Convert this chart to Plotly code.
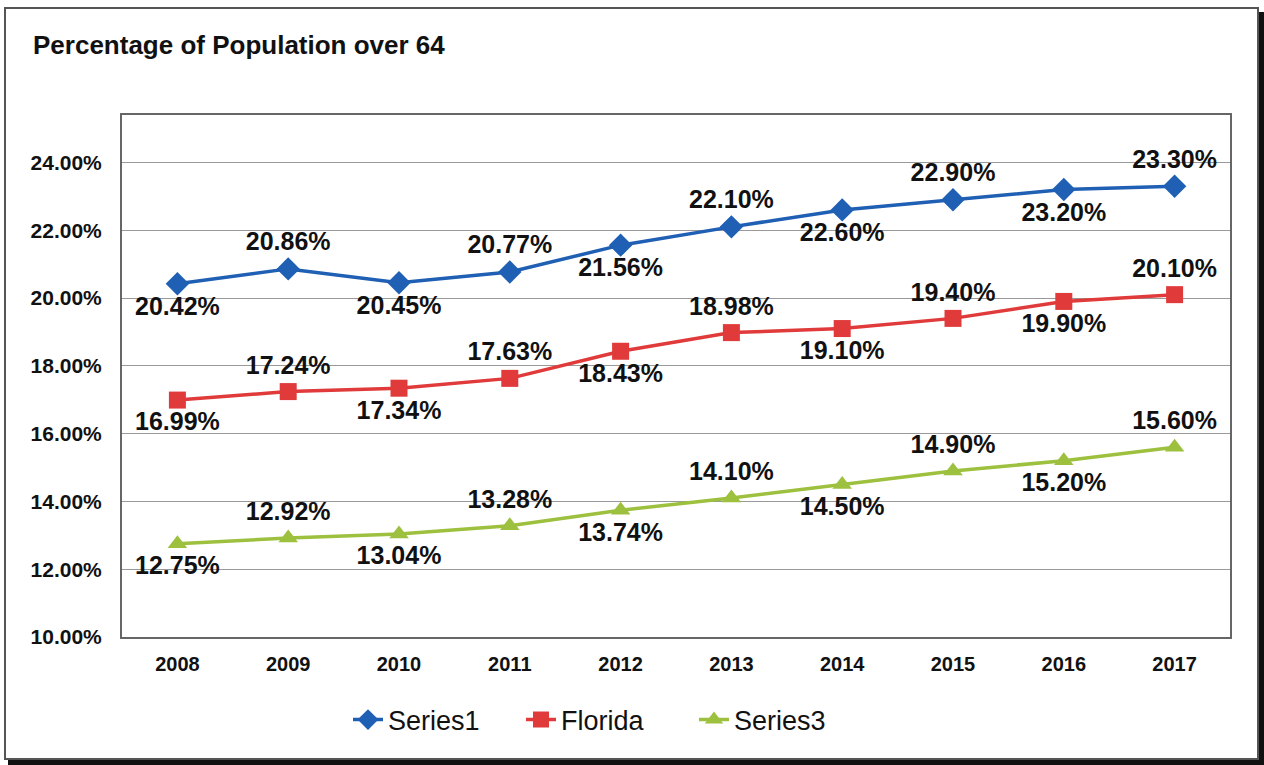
import plotly.graph_objects as go

# Values (percent)
years = ["2008", "2009", "2010", "2011", "2012", "2013", "2014", "2015", "2016", "2017"]
series1 = [20.42, 20.86, 20.45, 20.77, 21.56, 22.10, 22.60, 22.90, 23.20, 23.30]
florida = [16.99, 17.24, 17.34, 17.63, 18.43, 18.98, 19.10, 19.40, 19.90, 20.10]
series3 = [12.75, 12.92, 13.04, 13.28, 13.74, 14.10, 14.50, 14.90, 15.20, 15.60]
y_ticks = [10, 12, 14, 16, 18, 20, 22, 24]

# labels alternate below / above the points
label_pos = ["bottom center", "top center"] * 5

FONT = "Arial, Liberation Sans, sans-serif"

fig = go.Figure()

def add_series(name, values, color, symbol, size):
    fig.add_trace(go.Scatter(
        x=years,
        y=values,
        name=name,
        mode="lines+markers+text",
        line=dict(color=color, width=3.5),
        marker=dict(color=color, symbol=symbol, size=size),
        text=[f"{v:.2f}%" for v in values],
        textposition=label_pos,
        textfont=dict(family=FONT, size=25, color="#111111", weight="bold"),
        cliponaxis=False,
    ))

add_series("Series1", series1, "#1F5FB4", "diamond", 18)
add_series("Florida", florida, "#E03A3A", "square", 17)
add_series("Series3", series3, "#9DC03E", "triangle-up", 17)

# plot area in page pixels (body margin is removed below)
W, H = 1264, 765
L, R, T, B = 122, 1230, 115, 637

def px_x(px):
    return (px - L) / (R - L)
def px_y(py):
    return (B - py) / (B - T)

# outer chart frame plus the dark scan edges on the right and bottom
shapes = [
    dict(type="rect", xref="paper", yref="paper",
         x0=px_x(5), x1=px_x(1258), y0=px_y(759), y1=px_y(8),
         line=dict(color="#555555", width=2), layer="below"),
    dict(type="rect", xref="paper", yref="paper",
         x0=px_x(1259), x1=px_x(1264), y0=px_y(765), y1=px_y(12),
         line=dict(width=0), fillcolor="#111111"),
    dict(type="rect", xref="paper", yref="paper",
         x0=px_x(8), x1=px_x(1264), y0=px_y(765), y1=px_y(760),
         line=dict(width=0), fillcolor="#111111"),
]

fig.update_layout(
    width=W,
    height=H,
    margin=dict(l=L, r=W - R, t=T, b=H - B),
    paper_bgcolor="white",
    plot_bgcolor="white",
    font=dict(family=FONT, color="#111111"),
    title=dict(
        text="<b>Percentage of Population over 64</b>",
        x=33 / W, xanchor="left",
        y=1 - 45 / H, yanchor="middle",
        font=dict(size=26, family=FONT, color="#111111"),
    ),
    legend=dict(
        orientation="h",
        x=px_x(348), xanchor="left",
        y=px_y(720), yanchor="middle",
        font=dict(size=27, family=FONT, color="#111111"),
        entrywidth=128,
        entrywidthmode="pixels",
        tracegroupgap=0,
    ),
    showlegend=True,
    shapes=shapes,
)

fig.update_xaxes(
    type="category",
    range=[-0.5, 9.5],
    showgrid=False,
    showline=True,
    linecolor="#666666",
    linewidth=2,
    mirror=True,
    ticks="",
    tickfont=dict(size=20, family=FONT, color="#111111", weight="bold"),
    ticklabelstandoff=8,
)

fig.update_yaxes(
    range=[10, 25.4],
    tickvals=y_ticks,
    ticktext=[f"{v:.2f}%" for v in y_ticks],
    showgrid=True,
    gridcolor="#999999",
    gridwidth=1,
    showline=True,
    linecolor="#666666",
    linewidth=2,
    mirror=True,
    zeroline=False,
    ticks="",
    tickfont=dict(size=21, family=FONT, color="#111111", weight="bold"),
    ticklabelstandoff=14,
)

fig.write_html(
    "out.html",
    config={"displayModeBar": False},
    post_script="document.body.style.margin='0';",
)
